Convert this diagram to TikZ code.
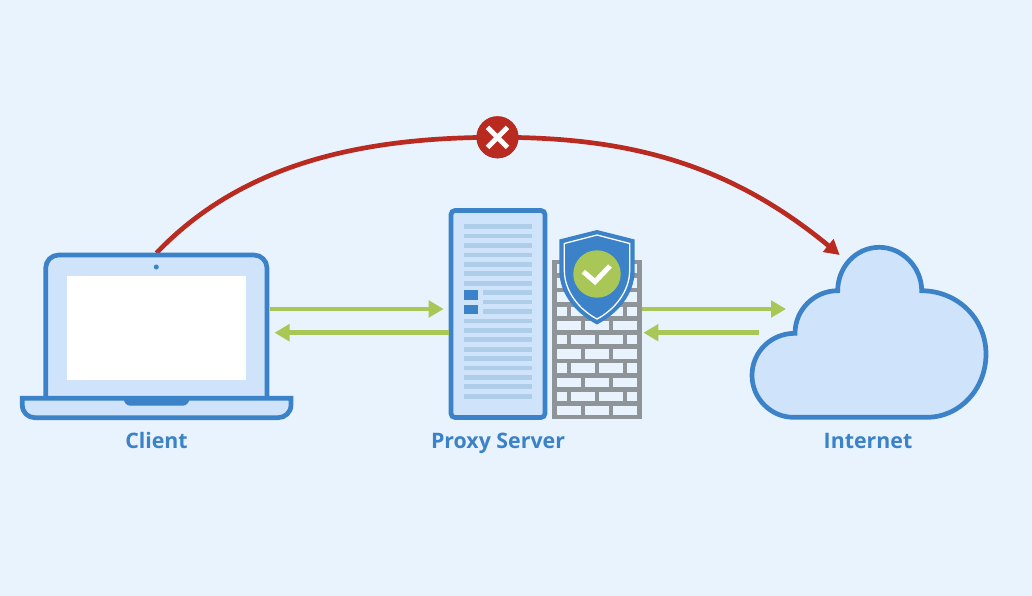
\documentclass[tikz,border=0pt]{standalone}
\usepackage{fontspec}
\setmainfont{Open Sans}
\usetikzlibrary{arrows.meta}
\definecolor{paper}{HTML}{E8F3FD}
\definecolor{inkblue}{HTML}{3B82C8}
\definecolor{tint}{HTML}{CFE3FA}
\definecolor{rulecol}{HTML}{AECDE8}
\definecolor{leaf}{HTML}{A9C756}
\definecolor{wall}{HTML}{8F9499}
\definecolor{alarm}{HTML}{B92A20}
\def\px{0.75pt}
\tikzset{
  x=0.75pt, y=-0.75pt,
  frame/.style={draw=none, rectangle, inner sep=0pt, outer sep=0pt},
  outline/.style={draw=inkblue, fill=tint, line width=4.7*\px, line join=miter},
  caption/.style={text=inkblue, font=\fontsize{16}{19}\selectfont\bfseries, inner sep=0pt, anchor=base},
  traffic/.style={draw=leaf, line width=4.7*\px,
    -{Triangle[length=15*\px, width=16.5*\px]}},
  blocked/.style={draw=alarm, line width=4.7*\px},
  brick/.style={fill=paper},
  listing/.style={fill=rulecol},
  badge/.style={circle, fill=alarm, minimum size=42*\px, inner sep=0pt},
}
\begin{document}
\begin{tikzpicture}
\useasboundingbox (0,0) rectangle (1032,596);
\fill[paper] (0,0) rectangle (1032,596);

% Placement frames used as connector anchors
\node[frame, minimum width=226*\px, minimum height=167*\px] (laptop) at (156.5,336.5) {};
\node[frame, minimum width=238*\px, minimum height=174*\px] (cloud) at (869,332.5) {};
\coordinate (upper) at (0,309);
\coordinate (lower) at (0,332.7);
\coordinate (cloudentry) at (839.7,255);
\coordinate (cloudout) at (786,309);
\coordinate (cloudin) at (759,332.7);

% Blocked direct route
\node[badge] (stop) at (497.5,137.3) {};
\draw[blocked] (laptop.north) .. controls (245,160) and (370,137.3) .. (stop.center);
\draw[blocked, -{Triangle[length=15*\px, width=16*\px]}] (stop.center) .. controls (621.5,137.3) and (725,160) .. (cloudentry);
\node[badge] at (stop) {};
\draw[white, line width=5*\px] (487.5,127.3) -- (507.5,147.3) (507.5,127.3) -- (487.5,147.3);

% Laptop
\draw[outline, rounded corners=13*\px] (45.7,398) -- (45.7,255) -- (267,255) -- (267,398);
\fill[white] (66.7,276) rectangle (246,380);
\fill[inkblue] (156.3,267) circle[radius=2.5];
\draw[outline] (22.3,398.3) -- (291,398.3) -- (291,405)
  .. controls (291,412.5) and (285,417.7) .. (278,417.7) -- (35,417.7)
  .. controls (28,417.7) and (22.3,412.5) .. (22.3,405) -- cycle;
\fill[inkblue, rounded corners=3*\px] (123.3,396) -- (190,396) -- (190,400) -- (186,405.7) -- (127,405.7) -- (123.3,400) -- cycle;

% Proxy server cabinet
\node[draw=inkblue, fill=tint, line width=4.7*\px, rounded corners=4*\px, inner sep=0pt,
      minimum width=94*\px, minimum height=207*\px] (server) at (498,314) {};
\foreach \i in {0,...,6,10,11,...,18} {
  \pgfmathsetmacro\yy{224.35+9.42*\i}
  \fill[listing] (464,\yy) rectangle (532,\yy+4.7);
}
\foreach \i in {7,8,9} {
  \pgfmathsetmacro\yy{224.35+9.42*\i}
  \fill[listing] (482.7,\yy) rectangle (532,\yy+4.7);
}
\fill[inkblue] (464,290.3) rectangle (478,299.7);
\fill[inkblue] (464,304.7) rectangle (478,314);

% Firewall
\node[fill=wall, inner sep=0pt, minimum width=89.4*\px, minimum height=159.3*\px] (firewall) at (597,339.65) {};
\foreach \i in {0,2,...,10} {
  \pgfmathsetmacro\yy{406-14.2*\i}
  \fill[brick] (556.7,\yy) rectangle (580.7,\yy+9.33);
  \fill[brick] (585,\yy) rectangle (609,\yy+9.33);
  \fill[brick] (613.3,\yy) rectangle (637.3,\yy+9.33);
}
\foreach \i in {1,3,...,9} {
  \pgfmathsetmacro\yy{406-14.2*\i}
  \fill[brick] (556.7,\yy) rectangle (566.7,\yy+9.33);
  \fill[brick] (571,\yy) rectangle (594.7,\yy+9.33);
  \fill[brick] (599,\yy) rectangle (623,\yy+9.33);
  \fill[brick] (627.3,\yy) rectangle (637.3,\yy+9.33);
}

% Shield
\fill[inkblue] (597,230) -- (634.7,239.5) -- (634.7,270)
  .. controls (634.7,295) and (617,314) .. (597,324.5)
  .. controls (577,314) and (559.3,295) .. (559.3,270) -- (559.3,239.5) -- cycle;
\draw[white, line width=1.3*\px] (597,235) -- (629.7,243.5) -- (629.7,270)
  .. controls (629.7,292) and (614,310) .. (597,319)
  .. controls (580,310) and (564.3,292) .. (564.3,270) -- (564.3,243.5) -- cycle;
\fill[leaf] (597,274) circle[radius=23.7];
\draw[white, line width=5*\px] (583.3,271.7) -- (595,281.7) -- (610,266);

% Cloud
\draw[outline] (793.3,417.3) -- (926.7,417.3)
  .. controls (959.8,417.3) and (986,389) .. (986,354)
  .. controls (986,319) and (958,291) .. (921.7,290.7)
  .. controls (921.7,267) and (902,247.3) .. (879.3,247.3)
  .. controls (856,247.3) and (837.7,267) .. (837.7,290.7)
  .. controls (814,290.7) and (795,310) .. (795,333.3)
  .. controls (771,333.3) and (752,352) .. (752,375.3)
  .. controls (752,398.5) and (771,417.3) .. (793.3,417.3) -- cycle;

% Allowed traffic
\draw[traffic] (laptop.east |- upper) -- ([xshift=-5*\px]server.west |- upper);
\draw[traffic] (server.west |- lower) -- ([xshift=5*\px]laptop.east |- lower);
\draw[traffic] (firewall.east |- upper) -- (cloudout);
\draw[traffic] (cloudin) -- ([xshift=1.5*\px]firewall.east |- lower);

% Captions
\node[caption] (clientlabel) at (156.5,448.3) {Client};
\node[caption] (proxylabel) at (498,448.3) {Proxy Server};
\node[caption] (internetlabel) at (868,448.3) {Internet};
\end{tikzpicture}
\end{document}
